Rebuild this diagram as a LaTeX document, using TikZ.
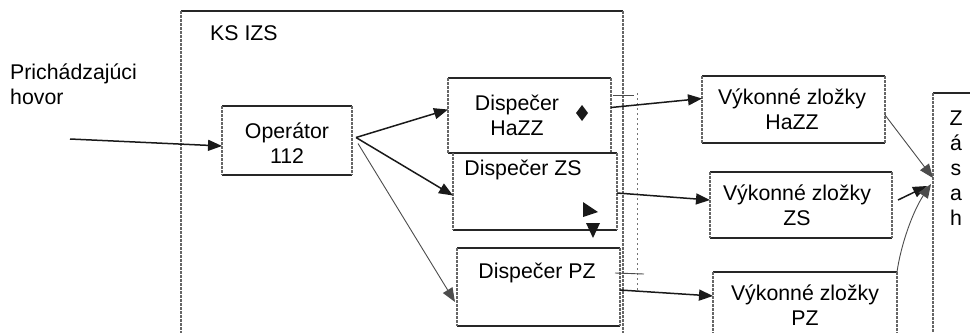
\documentclass[tikz,border=0pt]{standalone}
\usepackage{fontspec}
\setmainfont{Liberation Sans}
\usetikzlibrary{arrows.meta,calc}

\tikzset{
  box/.style 2 args={draw=none, minimum width=#1, minimum height=#2, inner sep=0pt, outer sep=0pt},
  hline/.style={draw=black!85, line width=1.5pt},
  vline/.style={draw=black!60, line width=1.1pt, dash pattern=on 3pt off 1pt},
  lbl/.style={font=\fontsize{21.3}{25}\selectfont, align=center, inner sep=0pt},
  arr/.style={-{Triangle[length=14pt,width=11pt]}, line width=1.5pt, draw=black!90},
  thinarr/.style={arr, line width=0.9pt, draw=black!70},
  blot/.style={fill=black!90},
}

% outline of a box: solid horizontal edges, rough vertical edges
\newcommand\edgebox[1]{%
  \draw[hline] (#1.north west) -- (#1.north east);
  \draw[hline] (#1.south west) -- (#1.south east);
  \draw[vline] (#1.north west) -- (#1.south west);
  \draw[vline] (#1.north east) -- (#1.south east);}

\begin{document}
\begin{tikzpicture}[x=1pt,y=-1pt]
\useasboundingbox (0,0) rectangle (970,333);

% KS IZS frame (open at the bottom)
\coordinate (fbl) at (181,333);
\coordinate (ftl) at (181,11);
\coordinate (ftr) at (623,11);
\coordinate (fbr) at (623,333);
\draw[hline] (ftl) -- (ftr);
\draw[vline] (ftl) -- (fbl);
\draw[vline] (ftr) -- (fbr);
\node[lbl, anchor=west] (ksizs) at (210,33) {KS IZS};

% incoming call
\node[lbl, anchor=west, align=left] (call) at (10,84) {Prichádzajúci\\hovor};
\coordinate (callin) at (70,139);

% operator
\node[box={130pt}{69pt}] (op) at (287,140.5) {};
\edgebox{op}
\node[lbl] (optxt) at (287,143) {Operátor\\112};

% dispatchers
\node[box={163pt}{75pt}] (dh) at (529.5,115.5) {};
\node[box={164pt}{77pt}] (dz) at (535,191.5) {};
\node[box={163pt}{78pt}] (dp) at (538.5,287) {};
\edgebox{dh}
\edgebox{dz}
\edgebox{dp}
\node[lbl] (dhtxt) at (517,115.5) {Dispečer\\HaZZ};
\node[lbl] (dztxt) at (523,170) {Dispečer ZS};
\node[lbl] (dptxt) at (537,273) {Dispečer PZ};

% stray marks inside the dispatcher boxes
\fill[blot] (582,105) -- (588,113) -- (582,121) -- (576,113) -- cycle;
\fill[blot] (583,202) -- (598,212) -- (583,217) -- cycle;
\fill[blot] (586,223) -- (600,223) -- (593,238) -- cycle;

% dotted guide line and ticks beside the frame
\draw[black!55, line width=0.9pt, dash pattern=on 2pt off 3pt] (637,93) -- (637,290);
\draw[black!70, line width=0.9pt] (613,95) -- (634,95);
\draw[black!70, line width=0.9pt] (615,273) -- (644,274);

% executive units
\node[box={183pt}{67pt}] (vh) at (793.5,109.5) {};
\node[box={182pt}{66pt}] (vz) at (801,205) {};
\node[box={184pt}{66pt}] (vp) at (805,305) {};
\edgebox{vh}
\edgebox{vz}
\draw[hline] (vp.north west) -- (vp.north east);
\draw[vline] (vp.north west) -- (vp.west |- 0,333);
\draw[vline] (vp.north east) -- (vp.east |- 0,333);
\node[lbl] (vhtxt) at (792,109.5) {Výkonné zložky\\HaZZ};
\node[lbl] (vztxt) at (797,205) {Výkonné zložky\\ZS};
\node[lbl] (vptxt) at (805,305) {Výkonné zložky\\PZ};

% intervention
\node[box={60pt}{260pt}] (zs) at (963,223) {};
\draw[hline] (zs.north west) -- (zs.north east);
\draw[vline] (zs.north west) -- (zs.west |- 0,333);
\node[lbl] (zstxt) at (956,168) {Z\\á\\s\\a\\h};

% connectors
\coordinate (fan) at ([xshift=4pt,yshift=3pt]op.east);
\draw[arr] (callin) -- ([yshift=-5.5pt]op.west);
\draw[arr] (fan) -- ([yshift=6pt]dh.west);
\draw[arr] (fan) -- ([yshift=-4pt]dz.west);
\draw[thinarr] ([xshift=2pt,yshift=-6pt]fan) -- ([xshift=-2pt,yshift=-15pt]dp.west);

\draw[arr] ([yshift=8pt]dh.east) -- ([yshift=11pt]vh.west);
\draw[arr] ([yshift=-1.5pt]dz.east) -- ([yshift=5pt]vz.west);
\draw[arr] ([yshift=-3pt]dp.east) -- ([yshift=9pt]vp.west);

\draw[thinarr] ([yshift=-5.5pt]vh.east) -- ([yshift=45pt]zs.west);
\draw[arr] ([xshift=6pt,yshift=5pt]vz.east) -- ([xshift=-6pt,yshift=37pt]zs.west);
\draw[thinarr] (vp.north east) .. controls ($(vp.north east)+(4,-28)$) and ($(zs.west)+(-20,-12)$) .. ([xshift=-2pt,yshift=39pt]zs.west);
\end{tikzpicture}
\end{document}
